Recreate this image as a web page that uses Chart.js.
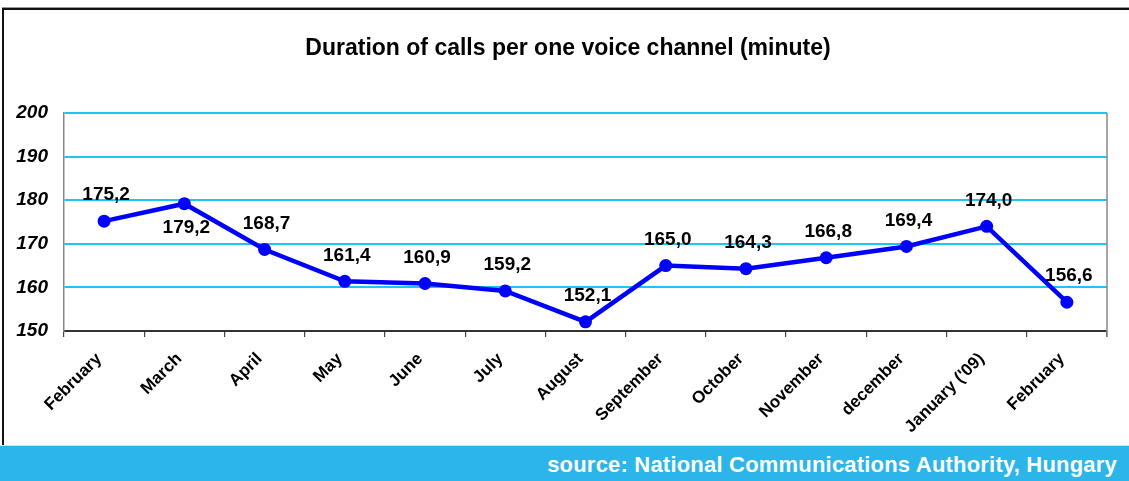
<!DOCTYPE html>
<html>
<head>
<meta charset="utf-8">
<script src="https://cdn.jsdelivr.net/npm/chart.js@4"></script>
<style>
  html, body { margin: 0; padding: 0; background: #fff; }
  #wrap { position: relative; width: 1129px; height: 481px; overflow: hidden; background: #fff; font-family: "Liberation Sans", Arial, sans-serif; }
  #frame { position: absolute; left: 2px; top: 8px; width: 1140px; height: 440px; border-left: 2px solid #111; border-top: 2px solid #111; box-sizing: border-box; }
  #frameTop { position: absolute; left: 2px; top: 7px; width: 1140px; height: 1px; background: #999; }
  #title { position: absolute; left: 0; width: 1136px; top: 33px; text-align: center; font-weight: bold; font-size: 23px; line-height: 28px; color: #000; }
  #chartBox { position: absolute; left: 0; top: 0; width: 1129px; height: 445px; }
  #footer { position: absolute; left: 0; top: 445px; width: 1129px; height: 36px; background: #2bb5e9; border-top: 1px solid #bfe8f7; box-sizing: border-box; }
  #source { position: absolute; right: 12px; top: 6px; color: #fff; font-weight: bold; font-size: 22px; line-height: 26px; letter-spacing: 0.2px; }
</style>
</head>
<body>
<div id="wrap">
  <div id="frameTop"></div>
  <div id="frame"></div>
  <div id="chartBox"><canvas id="c"></canvas></div>
  <div id="title">Duration of calls per one voice channel (minute)</div>
  <div id="footer"><div id="source">source: National Communications Authority, Hungary</div></div>
</div>
<script>
const categories = ["February", "March", "April", "May", "June", "July", "August", "September", "October", "November", "december", "January ('09)", "February"];
const durationValues = [175.2, 179.2, 168.7, 161.4, 160.9, 159.2, 152.1, 165.0, 164.3, 166.8, 169.4, 174.0, 156.6];
const yTicks = [150, 160, 170, 180, 190, 200];

const FONT = '"Liberation Sans", Arial, sans-serif';
const GRID = '#1cc6f2';

const labelPlugin = {
  id: 'pointLabels',
  afterDatasetsDraw(chart) {
    const ctx = chart.ctx;
    const meta = chart.getDatasetMeta(0);
    const ds = chart.data.datasets[0];
    ctx.save();
    ctx.font = 'bold 19px ' + FONT;
    ctx.fillStyle = '#000';
    ctx.textAlign = 'center';
    ctx.textBaseline = 'middle';
    meta.data.forEach((pt, i) => {
      const v = ds.data[i];
      const txt = v.toFixed(1).replace('.', ',');
      const below = i > 0 && i < ds.data.length - 1 && v > ds.data[i - 1] && v > ds.data[i + 1] && v > 178;
      const dy = below ? 24 : -26;
      ctx.fillText(txt, pt.x + 2, pt.y + dy);
    });
    ctx.restore();
  }
};

const rightBorder = {
  id: 'rightBorder',
  beforeDatasetsDraw(chart) {
    const { ctx, chartArea } = chart;
    ctx.save();
    ctx.strokeStyle = '#888';
    ctx.lineWidth = 1.5;
    ctx.beginPath();
    ctx.moveTo(chartArea.right, chartArea.top);
    ctx.lineTo(chartArea.right, chartArea.bottom + 6);
    ctx.stroke();
    ctx.restore();
  }
};

new Chart(document.getElementById('c'), {
  type: 'line',
  data: {
    labels: categories,
    datasets: [{
      data: durationValues,
      borderColor: '#0000ff',
      backgroundColor: '#0000ff',
      borderWidth: 4.5,
      pointRadius: 6.5,
      pointBorderWidth: 0,
      pointBackgroundColor: '#0000ff',
      tension: 0,
      fill: false
    }]
  },
  options: {
    responsive: true,
    maintainAspectRatio: false,
    animation: false,
    devicePixelRatio: 1,
    layout: { padding: { left: 0, top: 113, right: 22, bottom: 0 } },
    plugins: { legend: { display: false }, title: { display: false }, tooltip: { enabled: false } },
    scales: {
      x: {
        type: 'category',
        offset: true,
        grid: { offset: true, drawOnChartArea: false, drawTicks: true, tickLength: 6, color: '#444', lineWidth: 1.2 },
        border: { display: true, color: '#333', width: 2 },
        ticks: { autoSkip: false, maxRotation: 45, minRotation: 45, padding: 12, labelOffset: -5, color: '#000', font: { family: FONT, weight: 'bold', size: 17 } },
        afterFit(s) { s.height = 114; }
      },
      y: {
        min: 150, max: 200,
        afterBuildTicks(s) { s.ticks = yTicks.map(v => ({ value: v })); },
        grid: { drawTicks: false, lineWidth: 2, color: (c) => c.tick && c.tick.value === 150 ? 'rgba(0,0,0,0)' : GRID },
        border: { display: true, color: '#888', width: 1.5 },
        ticks: { padding: 16, color: '#000', font: { family: FONT, weight: 'bold', style: 'italic', size: 19 } },
        afterFit(s) { s.width = 64; }
      }
    }
  },
  plugins: [labelPlugin, rightBorder]
});
</script>
</body>
</html>
